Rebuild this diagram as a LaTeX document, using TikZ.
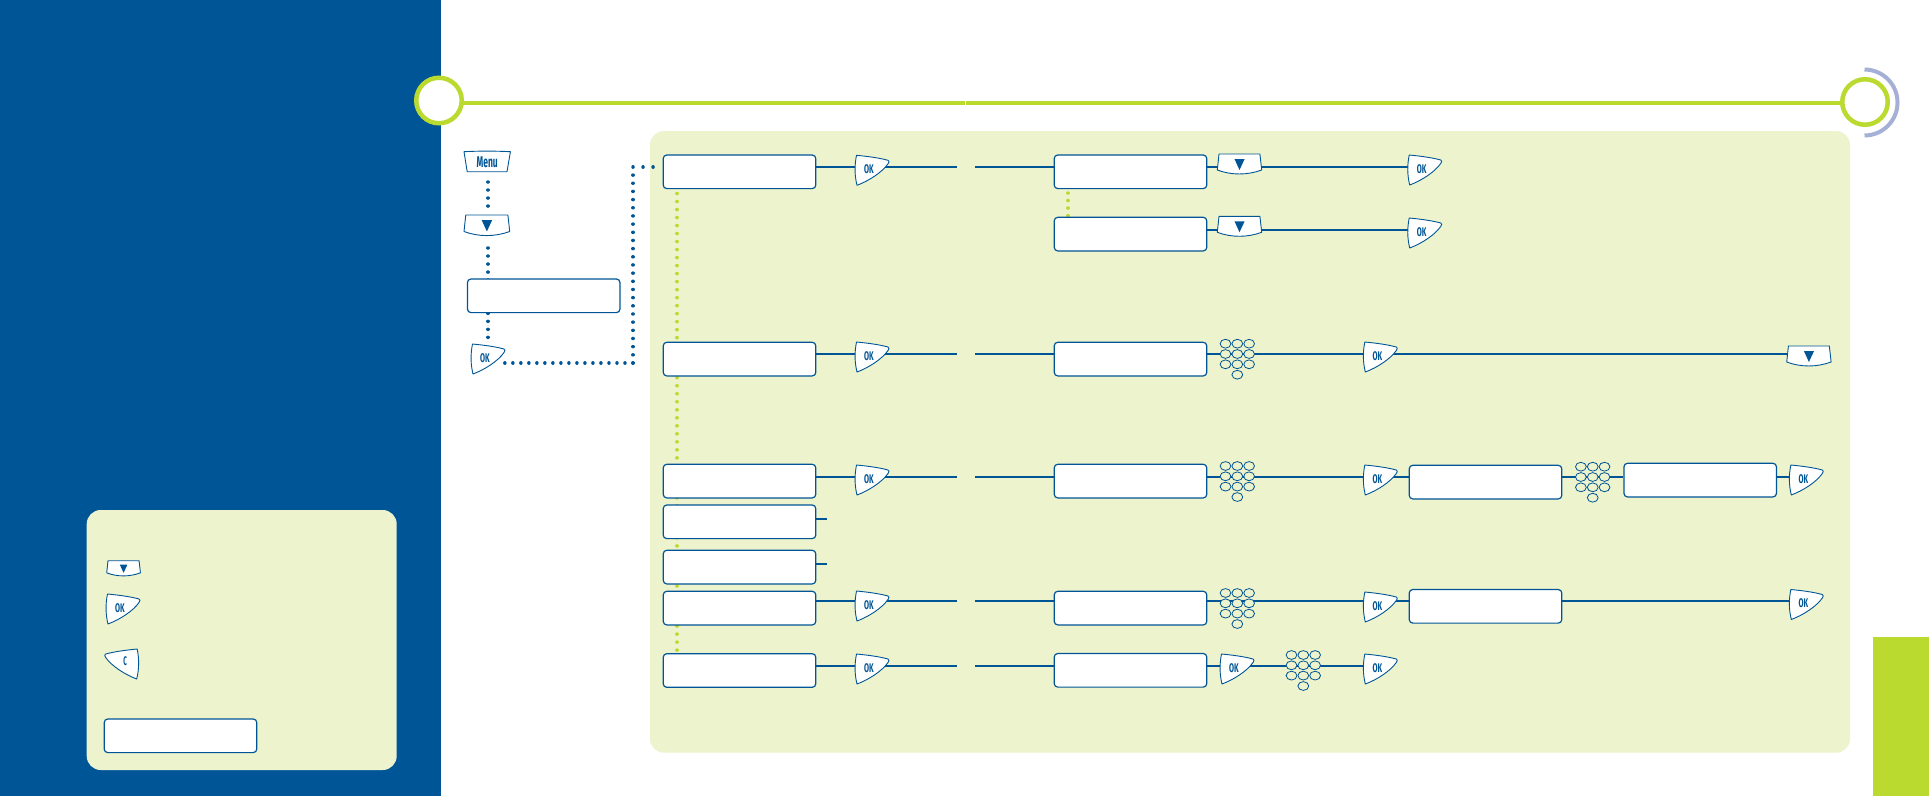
\documentclass[tikz,border=0pt]{standalone}
\usepackage{fontspec}
\setmainfont{Fira Sans}
\definecolor{navy}{HTML}{005596}
\definecolor{pale}{HTML}{EDF3CD}
\definecolor{lime}{HTML}{BADA2F}
\definecolor{lilac}{HTML}{A5B0D6}
\pgfdeclarelayer{panel}
\pgfdeclarelayer{conn}
\pgfsetlayers{panel,conn,main}
\tikzset{
  dispbox/.style={draw=navy,fill=white,line width=1.2pt,rounded corners=3.5pt,minimum width=152.5pt,minimum height=33.6pt,inner sep=0pt},
  keyline/.style={draw=navy,fill=white,line width=0.9pt,line join=round},
  keytext/.style={inner sep=0pt,text=navy,font=\fontsize{12.5}{13}\selectfont\bfseries},
  padkey/.style={draw=navy,fill=pale,line width=0.8pt},
  conn/.style={draw=navy,line width=2.2pt},
  bluedots/.style={draw=navy,line width=3.5pt,line cap=round,dash pattern=on 0.01pt off #1pt},
  limedots/.style={draw=lime,line width=3.5pt,line cap=round,dash pattern=on 0.01pt off #1pt},
  ring/.style={circle,draw=lime,fill=white,line width=4.5pt,minimum size=45.5pt,inner sep=0pt},
  greenrule/.style={draw=lime,line width=4pt}
}
\newcommand\dbox[3]{\node[dispbox] (#1) at ({#2+76.2},{#3+16.8}) {};}
\newcommand\okshape{(1.5,0) .. controls (12,1) and (24,2.5) .. (33,5) .. controls (34.5,5.5) and (34.2,7) .. (33,8.5) .. controls (27,17) and (14,25.5) .. (2,30) .. controls (-0.5,20) and (-0.5,10) .. (1.5,0) -- cycle}
\newcommand\okkey[3]{\begin{scope}[shift={(#2,#3)}]
  \path[keyline] \okshape;
  \node[keytext] (#1) at (14,14) {\scalebox{0.58}[1]{OK}};
\end{scope}}
\newcommand\ckey[3]{\begin{scope}[shift={(#2,#3)}]
  \begin{scope}[shift={(34.4,0)},xscale=-1]
    \path[keyline] \okshape;
  \end{scope}
  \node[keytext] (#1) at (20.8,12.5) {\scalebox{0.5}[1]{C}};
\end{scope}}
\newcommand\downkey[4]{\begin{scope}[shift={(#2,#3)},scale=#4]
  \path[keyline] (1.7,0) -- (42.6,0) -- (44.4,16) .. controls (30,21.3) and (14,21.3) .. (0,16) -- cycle;
  \fill[navy] (17.2,5) -- (27.3,5) -- (22.2,16) -- cycle;
  \coordinate (#1) at (22.2,10);
\end{scope}}
\newcommand\menukey[3]{\begin{scope}[shift={(#2,#3)}]
  \path[keyline] (0,0) .. controls (15,-0.8) and (31,-0.8) .. (46.4,0) -- (43,20) -- (3.2,20) -- cycle;
  \node[keytext,font=\fontsize{15.5}{16}\selectfont\bfseries] (#1) at (23.2,11) {\scalebox{0.55}[1]{Menu}};
\end{scope}}
\newcommand\keypad[3]{\begin{scope}[shift={(#2,#3)}]
  \coordinate (#1) at (0,15);
  \foreach \px in {-11.8,0,11.8}{\foreach \py in {0,10.3,20.6}{
    \path[padkey] (\px,\py) ellipse [x radius=5.4pt,y radius=4.4pt];}}
  \path[padkey] (0,31) ellipse [x radius=5.4pt,y radius=4.4pt];
\end{scope}}
\newcommand\lnk[3]{\draw[conn] (#1 |- #3) -- (#2 |- #3);}
\begin{document}
\begin{tikzpicture}[x=1pt,y=-1pt]
\useasboundingbox (0,0) rectangle (1929,796);
\begin{pgfonlayer}{panel}
  \fill[white] (0,0) rectangle (1929,796);
  \fill[navy] (0,0) rectangle (441,796);
  \fill[pale,rounded corners=14pt] (86.7,510) rectangle (396.7,770);
  \fill[pale,rounded corners=14pt] (650,131) rectangle (1850,752.7);
  \fill[lime] (1872.7,637) rectangle (1929,796);
\end{pgfonlayer}
% rings and rule
\node[ring] (ringL) at (439,100.5) {};
\node[ring] (ringR) at (1865,102) {};
\draw[lilac,line width=4pt] (1864.5,69.5) arc [start angle=90,end angle=-90,radius=33pt];
\coordinate (ruleY) at (0,102.7);
\coordinate (gapA) at (965.3,102.7);
\coordinate (gapB) at (966.3,102.7);
% left column
\menukey{menu}{464}{151.7}
\downkey{dn}{464}{215}{1.03}
\dbox{lbox}{467.5}{279}
\okkey{okl}{471}{344}
% legend
\downkey{ldn}{106.7}{560.7}{0.76}
\okkey{lok}{106}{594}
\ckey{lc}{104.3}{649}
\dbox{lgbox}{104.3}{719}
% rows
\coordinate (r1) at (0,166.7);
\coordinate (r1b) at (0,229.7);
\coordinate (r2) at (0,353.7);
\coordinate (r3) at (0,476.7);
\coordinate (r4) at (0,519);
\coordinate (r5) at (0,564);
\coordinate (r6) at (0,600.7);
\coordinate (r7) at (0,666);
\coordinate (ga) at (957,0);
\coordinate (gb) at (975,0);
\coordinate (stub) at (827,0);
\dbox{b1}{663.3}{155}
\okkey{k1}{855}{155.3}
\dbox{c1}{1054.3}{155}
\downkey{d1}{1217.3}{154}{1}
\okkey{o1}{1407.7}{155}
\dbox{c1b}{1054.3}{217.3}
\downkey{d1b}{1217.3}{216.3}{1}
\okkey{o1b}{1407.7}{218}
\dbox{b2}{663.3}{342.3}
\okkey{k2}{855}{342}
\dbox{c2}{1054.3}{342.3}
\keypad{p2}{1237.3}{343.7}
\okkey{o2}{1363.3}{342}
\downkey{d2}{1786.7}{346}{1}
\dbox{b3}{663.3}{464.3}
\okkey{k3}{855}{465}
\dbox{c3}{1054.3}{464.3}
\keypad{p3}{1237.3}{466}
\okkey{o3}{1363.3}{465}
\dbox{e3}{1409.3}{465.3}
\keypad{p3b}{1592.7}{466.7}
\dbox{f3}{1624}{463.3}
\okkey{q3}{1789.3}{465}
\dbox{b4}{663.3}{505}
\dbox{b5}{663.3}{550.3}
\dbox{b6}{663.3}{591.3}
\okkey{k6}{855}{591}
\dbox{c6}{1054.3}{591.3}
\keypad{p6}{1237.3}{593}
\okkey{o6}{1363.3}{592}
\dbox{e6}{1409.3}{589.5}
\okkey{q6}{1789.3}{589.5}
\dbox{b7}{663.3}{653.7}
\okkey{k7}{855}{654}
\dbox{c7}{1054.3}{653.5}
\okkey{o7a}{1220}{654}
\keypad{p7}{1303.3}{655}
\okkey{o7}{1363.3}{654}
\begin{pgfonlayer}{conn}
  \draw[greenrule] (ringL |- ruleY) -- (gapA);
  \draw[greenrule] (gapB) -- (ringR |- ruleY);
  % dotted blue
  \coordinate (m1) at (488,182);
  \coordinate (m2) at (488,208);
  \coordinate (m3) at (488,248);
  \coordinate (m4) at (488,280.5);
  \coordinate (m5) at (488,313.3);
  \coordinate (m6) at (488,338);
  \coordinate (h1) at (633,363);
  \coordinate (h2) at (504,363);
  \coordinate (h3) at (633,167);
  \coordinate (h4) at (653.5,167);
  \draw[bluedots=8] (m1) -- (m2);
  \draw[bluedots=8] (m3) -- (m4);
  \draw[bluedots=8] (m5) -- (m6);
  \draw[bluedots=8] (h1) -- (h2);
  \draw[bluedots=8.16] (h1) -- (h3);
  \draw[bluedots=10] (h3) -- (h4);
  % dotted lime
  \coordinate (v1) at (677,193.5);
  \coordinate (v2) at (677,653);
  \coordinate (v3) at (1068,193);
  \coordinate (v4) at (1068,218);
  \draw[limedots=8] (v1) -- (v2);
  \draw[limedots=7.5] (v3) -- (v4);
  % row 1
  \lnk{b1.east}{k1}{r1} \lnk{k1}{ga}{r1} \lnk{gb}{c1.west}{r1}
  \lnk{c1.east}{d1}{r1} \lnk{d1}{o1}{r1}
  \lnk{c1b.east}{d1b}{r1b} \lnk{d1b}{o1b}{r1b}
  % row 2
  \lnk{b2.east}{k2}{r2} \lnk{k2}{ga}{r2} \lnk{gb}{c2.west}{r2}
  \lnk{c2.east}{p2}{r2} \lnk{p2}{o2}{r2} \lnk{o2}{d2}{r2}
  % row 3
  \lnk{b3.east}{k3}{r3} \lnk{k3}{ga}{r3} \lnk{gb}{c3.west}{r3}
  \lnk{c3.east}{p3}{r3} \lnk{p3}{o3}{r3} \lnk{o3}{e3.west}{r3}
  \lnk{e3.east}{p3b}{r3} \lnk{p3b}{f3.west}{r3} \lnk{f3.east}{q3}{r3}
  % stubs
  \lnk{b4.east}{stub}{r4}
  \lnk{b5.east}{stub}{r5}
  % row 6
  \lnk{b6.east}{k6}{r6} \lnk{k6}{ga}{r6} \lnk{gb}{c6.west}{r6}
  \lnk{c6.east}{p6}{r6} \lnk{p6}{o6}{r6} \lnk{o6}{e6.west}{r6} \lnk{e6.east}{q6}{r6}
  % row 7
  \lnk{b7.east}{k7}{r7} \lnk{k7}{ga}{r7} \lnk{gb}{c7.west}{r7}
  \lnk{c7.east}{o7a}{r7} \lnk{o7a}{p7}{r7} \lnk{p7}{o7}{r7}
\end{pgfonlayer}
\end{tikzpicture}
\end{document}
